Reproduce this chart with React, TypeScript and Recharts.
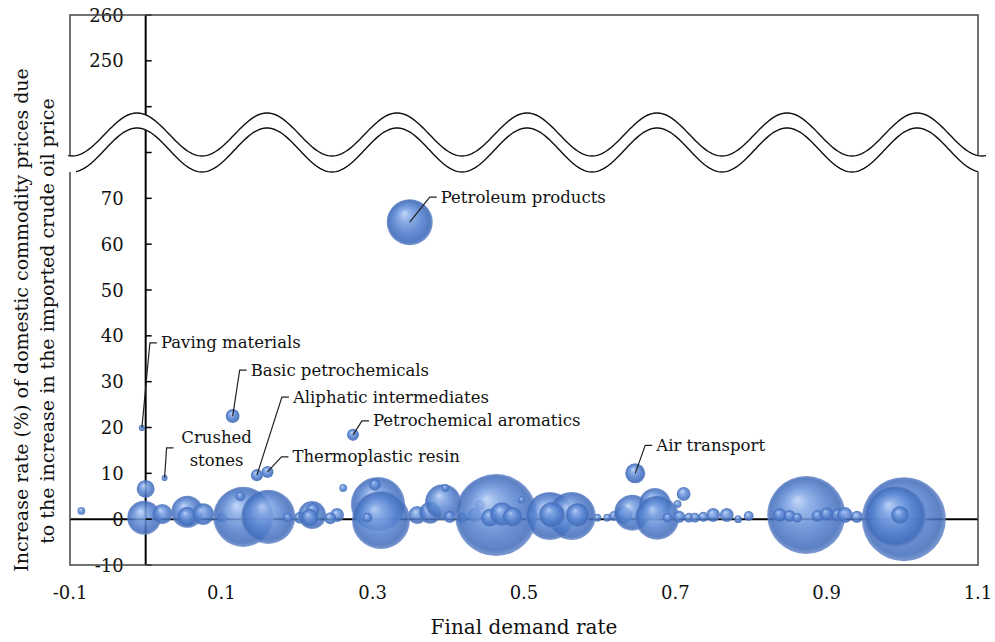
import React from 'react';
import { ScatterChart, Scatter, XAxis, YAxis, ZAxis, CartesianGrid } from 'recharts';

const W = 995;
const H = 642;
const MARGIN = { top: 15, right: 17, bottom: 0, left: 69 };
const Y_AXIS_W = 1;
const X_AXIS_H = 77;
const X_DOMAIN: [number, number] = [-0.1, 1.1];
const Y_DOMAIN: [number, number] = [-10, 110];
const PLOT_LEFT = MARGIN.left + Y_AXIS_W;
const PLOT_W = W - PLOT_LEFT - MARGIN.right;
const PLOT_H = H - MARGIN.top - MARGIN.bottom - X_AXIS_H;
const AXIS0_X = PLOT_LEFT + ((0 - X_DOMAIN[0]) / (X_DOMAIN[1] - X_DOMAIN[0])) * PLOT_W;
const FONT = '"DejaVu Serif", serif';

const X_TICKS = [-0.1, 0.1, 0.3, 0.5, 0.7, 0.9, 1.1];
const Y_TICKS = [-10, 0, 10, 20, 30, 40, 50, 60, 70, 80, 90, 100, 110];
// the axis is broken: the top two ticks stand for 250 and 260
const Y_TICK_LABELS = ['-10', '0', '10', '20', '30', '40', '50', '60', '70', '', '', '250', '260'];

// x = final demand rate, y = price increase (%), z = relative bubble size
const BUBBLES = [
  { x: -0.085, y: 1.8, z: 0.8 },
  { x: 0.0, y: 6.6, z: 4.2 },
  { x: -0.002, y: 0.3, z: 14.9 },
  { x: 0.022, y: 1.1, z: 5.2 },
  { x: 0.055, y: 1.6, z: 13.2 },
  { x: 0.055, y: 0.5, z: 5.2 },
  { x: 0.076, y: 1.1, z: 6.2 },
  { x: 0.101, y: 0.3, z: 1.3 },
  { x: 0.129, y: 0.5, z: 46.5 },
  { x: 0.162, y: 0.5, z: 37.7 },
  { x: 0.125, y: 5.0, z: 1.3 },
  { x: 0.188, y: 0.3, z: 1.3 },
  { x: 0.204, y: 0.3, z: 1.9 },
  { x: 0.22, y: 0.9, z: 10.1 },
  { x: 0.221, y: 2.0, z: 2.5 },
  { x: 0.217, y: 0.3, z: 4.2 },
  { x: 0.253, y: 0.9, z: 2.5 },
  { x: 0.244, y: 0.2, z: 1.9 },
  { x: 0.261, y: 6.8, z: 0.8 },
  { x: 0.307, y: 3.3, z: 37.7 },
  { x: 0.311, y: -0.2, z: 43.4 },
  { x: 0.303, y: 7.5, z: 1.9 },
  { x: 0.293, y: 0.3, z: 1.3 },
  { x: 0.359, y: 0.9, z: 4.2 },
  { x: 0.376, y: 1.4, z: 6.2 },
  { x: 0.393, y: 3.7, z: 16.7 },
  { x: 0.396, y: 6.8, z: 0.8 },
  { x: 0.402, y: 0.5, z: 1.9 },
  { x: 0.418, y: 0.3, z: 1.3 },
  { x: 0.435, y: 0.9, z: 2.5 },
  { x: 0.442, y: 3.1, z: 1.3 },
  { x: 0.463, y: 0.9, z: 86.8 },
  { x: 0.455, y: 0.3, z: 4.2 },
  { x: 0.471, y: 1.1, z: 7.4 },
  { x: 0.485, y: 0.5, z: 5.2 },
  { x: 0.497, y: 4.2, z: 0.8 },
  { x: 0.51, y: 0.7, z: 1.9 },
  { x: 0.534, y: 0.7, z: 29.8 },
  { x: 0.563, y: 0.7, z: 29.8 },
  { x: 0.537, y: 0.9, z: 8.7 },
  { x: 0.571, y: 0.9, z: 7.4 },
  { x: 0.597, y: 0.3, z: 0.8 },
  { x: 0.61, y: 0.3, z: 0.8 },
  { x: 0.619, y: 0.7, z: 1.3 },
  { x: 0.631, y: 0.9, z: 4.2 },
  { x: 0.643, y: 1.4, z: 16.7 },
  { x: 0.673, y: 3.3, z: 13.2 },
  { x: 0.676, y: 0.3, z: 25 },
  { x: 0.711, y: 5.5, z: 2.5 },
  { x: 0.703, y: 3.3, z: 0.8 },
  { x: 0.69, y: 0.3, z: 1.3 },
  { x: 0.705, y: 0.5, z: 1.9 },
  { x: 0.718, y: 0.3, z: 1.3 },
  { x: 0.726, y: 0.3, z: 1.3 },
  { x: 0.737, y: 0.5, z: 1.3 },
  { x: 0.75, y: 0.9, z: 2.5 },
  { x: 0.768, y: 0.9, z: 2.5 },
  { x: 0.783, y: 0.0, z: 0.8 },
  { x: 0.797, y: 0.7, z: 1.3 },
  { x: 0.873, y: 0.9, z: 78.6 },
  { x: 0.838, y: 0.9, z: 2.5 },
  { x: 0.851, y: 0.7, z: 1.9 },
  { x: 0.861, y: 0.3, z: 1.3 },
  { x: 0.888, y: 0.7, z: 1.9 },
  { x: 0.9, y: 1.1, z: 2.5 },
  { x: 0.915, y: 0.9, z: 2.5 },
  { x: 0.924, y: 0.9, z: 3.3 },
  { x: 0.94, y: 0.5, z: 1.9 },
  { x: 1.002, y: 0.0, z: 91.1 },
  { x: 0.991, y: 0.5, z: 49.6 },
  { x: 0.997, y: 0.9, z: 4.2 },
];

const LABELED = [
  { name: 'Petroleum products', x: 0.349, y: 64.8, z: 27.3 },
  { name: 'Paving materials', x: -0.005, y: 19.9, z: 0.5 },
  { name: 'Basic petrochemicals', x: 0.115, y: 22.5, z: 2.5 },
  { name: 'Aliphatic intermediates', x: 0.147, y: 9.6, z: 1.9 },
  { name: 'Petrochemical aromatics', x: 0.274, y: 18.4, z: 1.9 },
  { name: 'Thermoplastic resin', x: 0.161, y: 10.3, z: 1.9 },
  { name: 'Crushed stones', x: 0.025, y: 9.0, z: 0.5 },
  { name: 'Air transport', x: 0.647, y: 10.0, z: 5.2 },
];

// leader elbow offsets (px) from the bubble centre
const LABEL_LAYOUT: Record<string, { ex: number; ey: number; lines?: string[]; tx?: number; ty?: number }> = {
  'Petroleum products': { ex: 20, ey: -25 },
  'Paving materials': { ex: 8, ey: -85 },
  'Basic petrochemicals': { ex: 7, ey: -46 },
  'Aliphatic intermediates': { ex: 25, ey: -78 },
  'Petrochemical aromatics': { ex: 9, ey: -14 },
  'Thermoplastic resin': { ex: 14, ey: -15 },
  'Crushed stones': { ex: 2, ey: -30, lines: ['Crushed', 'stones'], tx: 52, ty: -40 },
  'Air transport': { ex: 10, ey: -28 },
};

const Bubble = (props: any) => {
  const { cx, cy, width } = props;
  return <circle cx={cx} cy={cy} r={Math.max(width / 2, 1)} fill="url(#bubbleGrad)" fillOpacity={0.86} />;
};

const LabeledBubble = (props: any) => {
  const { cx, cy, width, payload } = props;
  const lay = LABEL_LAYOUT[payload.name];
  const ex = cx + lay.ex;
  const ey = cy + lay.ey;
  return (
    <g>
      <circle cx={cx} cy={cy} r={Math.max(width / 2, 1)} fill="url(#bubbleGrad)" fillOpacity={0.9} />
      <polyline points={`${cx},${cy} ${ex},${ey} ${ex + 7},${ey}`} fill="none" stroke="#222" strokeWidth={1.2} />
      {lay.lines ? (
        lay.lines.map((t, i) => (
          <text key={t} x={cx + (lay.tx ?? 0)} y={cy + (lay.ty ?? 0) + i * 23} textAnchor="middle"
            dominantBaseline="central" fontFamily={FONT} fontSize={16.5} fill="#111">{t}</text>
        ))
      ) : (
        <text x={ex + 11} y={ey} dominantBaseline="central" fontFamily={FONT} fontSize={16.5} fill="#111">
          {payload.name}
        </text>
      )}
    </g>
  );
};

const YTick = (props: any) => {
  const { y, index } = props;
  return (
    <g>
      <line x1={AXIS0_X} x2={AXIS0_X + 6} y1={y} y2={y} stroke="#000" strokeWidth={1.5} />
      <text x={AXIS0_X - 22} y={y} textAnchor="end" dominantBaseline="central" fontFamily={FONT} fontSize={18} fill="#111">
        {Y_TICK_LABELS[index]}
      </text>
    </g>
  );
};

const WAVE_PERIOD = 130;
const WAVE_PEAK_X = 137;
function wave(x0: number, x1: number, mid: number, amp: number) {
  const pts: string[] = [];
  for (let x = x0; x <= x1; x += 2) {
    pts.push(`${x},${(mid - amp * Math.cos((2 * Math.PI * (x - WAVE_PEAK_X)) / WAVE_PERIOD)).toFixed(2)}`);
  }
  return pts;
}

const Overlay = () => {
  const upperFill = wave(64, 990, 134.5, 21.5);
  const lowerFill = wave(64, 990, 150, 22).reverse();
  return (
    <svg width={W} height={H} style={{ position: 'absolute', left: 0, top: 0, pointerEvents: 'none' }}>
      <rect x={PLOT_LEFT} y={MARGIN.top} width={PLOT_W} height={PLOT_H} fill="none" stroke="#444" strokeWidth={1.5} />
      <polygon points={[...upperFill, ...lowerFill].join(' ')} fill="#fff" />
      <polyline points={wave(68, 986, 134.5, 21.5).join(' ')} fill="none" stroke="#111" strokeWidth={1.4} />
      <polyline points={wave(76, 978, 150, 22).join(' ')} fill="none" stroke="#111" strokeWidth={1.4} />
      <g fontFamily={FONT} fontSize={19} fill="#111" textAnchor="middle">
        <text x={21} y={320} dominantBaseline="central" transform="rotate(-90 21 320)">
          Increase rate (%) of domestic commodity prices due
        </text>
        <text x={47} y={321} dominantBaseline="central" transform="rotate(-90 47 321)">
          to the increase in the imported crude oil price
        </text>
      </g>
    </svg>
  );
};

export default function App() {
  return (
    <div style={{ position: 'absolute', left: 0, top: 0, width: W, height: H, background: '#fff' }}>
      <ScatterChart width={W} height={H} margin={MARGIN}>
        <defs>
          <radialGradient id="bubbleGrad" cx="0.5" cy="0.5" r="0.5" fx="0.38" fy="0.3">
            <stop offset="0%" stopColor="#bcd2f6" />
            <stop offset="25%" stopColor="#84a8e6" />
            <stop offset="62%" stopColor="#5582cf" />
            <stop offset="90%" stopColor="#416cba" />
            <stop offset="100%" stopColor="#6a8bcb" />
          </radialGradient>
        </defs>
        {/* zero lines as a grid so they stay beneath the bubbles */}
        <CartesianGrid horizontalValues={[0]} verticalValues={[0]} stroke="#000" strokeWidth={2} />
        <XAxis
          type="number"
          dataKey="x"
          domain={X_DOMAIN}
          ticks={X_TICKS}
          allowDataOverflow
          height={X_AXIS_H}
          axisLine={false}
          tickLine={false}
          tickSize={0}
          tickMargin={21}
          tickFormatter={(v: number) => v.toFixed(1)}
          tick={{ fontSize: 18, fontFamily: FONT, fill: '#111' }}
          label={{ value: 'Final demand rate', position: 'insideBottom', offset: 8, fontSize: 20, fontFamily: FONT, fill: '#111' }}
        />
        <YAxis
          type="number"
          dataKey="y"
          domain={Y_DOMAIN}
          ticks={Y_TICKS}
          allowDataOverflow
          width={Y_AXIS_W}
          axisLine={false}
          tickLine={false}
          tick={<YTick />}
          interval={0}
        />
        <ZAxis type="number" dataKey="z" domain={[0, 100]} range={[0, 6082]} />
        <Scatter data={BUBBLES} shape={<Bubble />} isAnimationActive={false} />
        <Scatter data={LABELED} shape={<LabeledBubble />} isAnimationActive={false} />
      </ScatterChart>
      <Overlay />
    </div>
  );
}
